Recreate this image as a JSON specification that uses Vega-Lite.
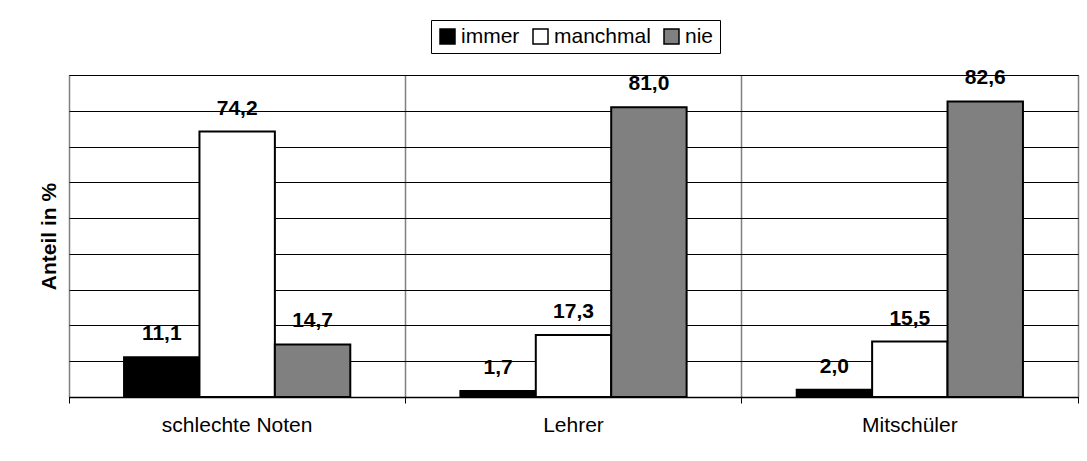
{
  "$schema": "https://vega.github.io/schema/vega-lite/v6.json",
  "width": 1009,
  "height": 322,
  "autosize": {"type": "none"},
  "padding": {"left": 69, "top": 75, "right": 9, "bottom": 64},
  "background": "white",
  "config": {
    "font": "Liberation Sans",
    "locale": {"number": {"decimal": ",", "thousands": ".", "grouping": [3], "currency": ["", " €"]}},
    "view": {"stroke": "black", "strokeWidth": 1}
  },
  "data": {
    "values": [
      {"Kategorie": "schlechte Noten", "Antwort": "immer", "Anteil": 11.1},
      {"Kategorie": "schlechte Noten", "Antwort": "manchmal", "Anteil": 74.2},
      {"Kategorie": "schlechte Noten", "Antwort": "nie", "Anteil": 14.7},
      {"Kategorie": "Lehrer", "Antwort": "immer", "Anteil": 1.7},
      {"Kategorie": "Lehrer", "Antwort": "manchmal", "Anteil": 17.3},
      {"Kategorie": "Lehrer", "Antwort": "nie", "Anteil": 81.0},
      {"Kategorie": "Mitschüler", "Antwort": "immer", "Anteil": 2.0},
      {"Kategorie": "Mitschüler", "Antwort": "manchmal", "Anteil": 15.5},
      {"Kategorie": "Mitschüler", "Antwort": "nie", "Anteil": 82.6}
    ]
  },
  "encoding": {
    "x": {
      "field": "Kategorie", "type": "nominal", "sort": null,
      "scale": {"paddingInner": 0, "paddingOuter": 0},
      "axis": {
        "title": null, "labelAngle": 0, "labelFontSize": 21, "labelColor": "black",
        "labelPadding": 11, "tickColor": "black", "tickSize": 6, "tickWidth": 1,
        "bandPosition": 1, "tickExtra": true,
        "grid": true, "gridColor": "#808080", "gridWidth": 1.5, "gridOpacity": 1,
        "domain": true, "domainColor": "black", "domainWidth": 1.5
      }
    },
    "xOffset": {
      "field": "Antwort", "type": "nominal",
      "scale": {"paddingInner": 0, "paddingOuter": 0.73}
    },
    "y": {
      "field": "Anteil", "type": "quantitative",
      "scale": {"domain": [0, 90], "nice": false},
      "axis": {
        "title": "Anteil in %", "titleFontSize": 21, "titleFontWeight": "bold", "titleColor": "black",
        "titlePadding": 10, "labels": false, "ticks": false, "domain": false,
        "grid": true, "gridColor": "black", "gridWidth": 1, "gridOpacity": 1,
        "values": [0, 10, 20, 30, 40, 50, 60, 70, 80, 90]
      }
    }
  },
  "layer": [
    {
      "mark": {"type": "bar", "stroke": "black", "strokeWidth": 2},
      "encoding": {
        "fill": {
          "field": "Antwort", "type": "nominal",
          "scale": {"domain": ["immer", "manchmal", "nie"], "range": ["black", "white", "#808080"]},
          "legend": {
            "title": null, "orient": "none", "legendX": 362, "legendY": -55,
            "direction": "horizontal", "symbolType": "square", "symbolSize": 225,
            "symbolStrokeColor": "black", "symbolStrokeWidth": 1.5, "symbolOpacity": 1,
            "labelFontSize": 21, "labelColor": "black", "labelOffset": 3,
            "columnPadding": 10, "padding": 6, "strokeColor": "black", "fillColor": "white",
            "cornerRadius": 0
          }
        }
      }
    },
    {
      "mark": {"type": "text", "dy": -17, "baseline": "alphabetic", "fontWeight": "bold", "fontSize": 21, "color": "black"},
      "encoding": {
        "text": {"field": "Anteil", "type": "quantitative", "format": ".1f"}
      }
    }
  ]
}
